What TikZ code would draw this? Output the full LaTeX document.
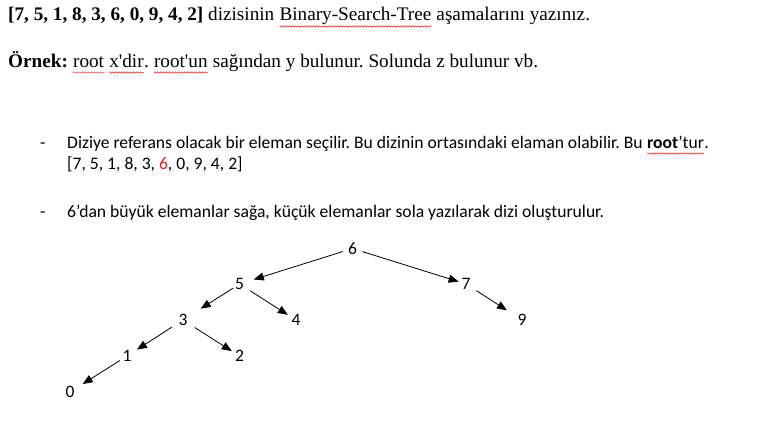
\documentclass[tikz,border=0pt]{standalone}
\usepackage{fontspec}
\setmainfont{Liberation Serif}[Ligatures=TeXOff]
\newfontfamily\calibri{Carlito}[Ligatures=TeXOff]
\usetikzlibrary{arrows.meta,decorations.pathmorphing}
\definecolor{wordred}{RGB}{225,30,30}
\frenchspacing
\begin{document}
\begin{tikzpicture}[x=1pt,y=-1pt,
  tr/.style={inner sep=0pt,anchor=base west,font=\frenchspacing\fontsize{19.2}{23}\selectfont},
  cb/.style={inner sep=0pt,anchor=base west,font=\frenchspacing\calibri\fontsize{17.6}{21}\selectfont},
  num/.style={inner sep=0pt,anchor=center,font=\calibri\fontsize{17.5}{21}\selectfont},
  arr/.style={draw=black,line width=0.8pt,-{Triangle[length=10pt,width=8pt]}},
  squig/.style={draw=wordred,line width=0.5pt,decorate,decoration={snake,amplitude=0.7pt,segment length=3pt}}]
\fill[white] (0,0) rectangle (767,428);
\useasboundingbox (0,0) rectangle (767,428);
% line 1
\node[tr] (t1a) at (8,21) {\textbf{[7, 5, 1, 8, 3, 6, 0, 9, 4, 2]} dizisinin};
\node[tr] (t1b) at ([xshift=4.8pt]t1a.base east) {Binary-Search-Tree};
\node[tr] (t1c) at ([xshift=4.8pt]t1b.base east) {aşamalarını yazınız.};
% line 2
\node[tr] (t2a) at (8,67) {\textbf{Örnek:}};
\node[tr] (t2b) at ([xshift=4.8pt]t2a.base east) {root};
\node[tr] (t2c) at ([xshift=4.8pt]t2b.base east) {x'dir};
\node[tr] (t2d) at (t2c.base east) {.};
\node[tr] (t2e) at ([xshift=4.8pt]t2d.base east) {root'un};
\node[tr] (t2f) at ([xshift=4.8pt]t2e.base east) {sağından y bulunur. Solunda z bulunur vb.};
% bullets
\node[cb] (d1) at (40,148) {-};
\node[cb] (c1a) at (67,148) {Diziye referans olacak bir eleman seçilir. Bu dizinin ortasındaki elaman olabilir. Bu};
\node[cb] (c1b) at ([xshift=3.98pt]c1a.base east) {\textbf{root}’tur};
\node[cb] (c1c) at (c1b.base east) {.};
\node[cb] (c2) at (67,169.5) {[7, 5, 1, 8, 3, \textcolor{wordred}{6}, 0, 9, 4, 2]};
\node[cb] (d2) at (40,217) {-};
\node[cb] (c3) at (67,217) {6’dan büyük elemanlar sağa, küçük elemanlar sola yazılarak dizi oluşturulur.};
% squiggles
\foreach \w in {t1b,t2b,t2c,t2e,c1b}
  \draw[squig] ([yshift=-5.5pt]\w.base west) -- ([yshift=-5.5pt]\w.base east);
% tree
\node[num] (n6) at (352.5,248.5) {6};
\node[num] (n5) at (239.5,284) {5};
\node[num] (n7) at (466,284) {7};
\node[num] (n3) at (183,320) {3};
\node[num] (n4) at (296,320) {4};
\node[num] (n9) at (522,320) {9};
\node[num] (n1) at (127,356) {1};
\node[num] (n2) at (239.5,356) {2};
\node[num] (n0) at (70,392) {0};
\draw[arr,shorten <=10.2pt,shorten >=15pt] (n6.center) -- (n5.center);
\draw[arr,shorten <=10.4pt,shorten >=7.7pt] (n6.center) -- (n7.center);
\draw[arr,shorten <=7.5pt,shorten >=21pt] (n5.center) -- (n3.center);
\draw[arr,shorten <=12.7pt,shorten >=9.7pt] (n5.center) -- (n4.center);
\draw[arr,shorten <=12.3pt,shorten >=17.9pt] (n7.center) -- (n9.center);
\draw[arr,shorten <=13pt,shorten >=11.8pt] (n3.center) -- (n1.center);
\draw[arr,shorten <=13.9pt,shorten >=9.1pt] (n3.center) -- (n2.center);
\draw[arr,shorten <=8.5pt,shorten >=15pt] (n1.center) -- (n0.center);
\end{tikzpicture}
\end{document}
